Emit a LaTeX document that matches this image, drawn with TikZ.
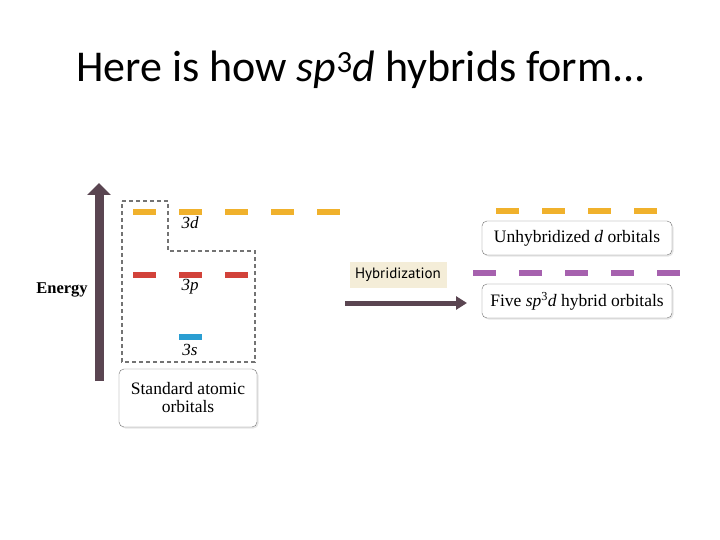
\documentclass[tikz,border=0pt]{standalone}
\usepackage{fontspec}
\setmainfont{Liberation Serif}
\newfontfamily\titlefont{Carlito}
\newfontfamily\tagfont{PT Sans}
\usetikzlibrary{arrows.meta,shadows}
\definecolor{energybar}{HTML}{5A4551}
\definecolor{dlevel}{HTML}{F0B12C}
\definecolor{plevel}{HTML}{D2423A}
\definecolor{slevel}{HTML}{2A9ED2}
\definecolor{hlevel}{HTML}{A661AE}
\definecolor{tagfill}{HTML}{F4EDD8}
\begin{document}
\begin{tikzpicture}[x=1pt, y=-1pt,
    level/.style={line width=6pt},
    orbbox/.style={draw=black!55, rounded corners=5pt, fill=white, align=center,
        font=\fontsize{17.5}{18}\selectfont,
        drop shadow={opacity=0.2, shadow xshift=1.5pt, shadow yshift=-1.5pt}},
    sublabel/.style={font=\fontsize{17}{18}\selectfont\itshape}]
    \useasboundingbox (0,0) rectangle (720,540);

    \node[anchor=base, font=\titlefont\fontsize{44}{50}\selectfont] (title) at (361,82)
        {Here is how \textit{sp}\textsuperscript{3}\textit{d} hybrids form...};

    % energy axis
    \coordinate (elow) at (99,381);
    \coordinate (ehigh) at (99,183);
    \draw[energybar, line width=9pt, -{Triangle[width=23pt,length=12pt]}] (elow) -- (ehigh);
    \node[font=\bfseries\fontsize{16.5}{18}\selectfont] (energy) at (62,290) {Energy};

    % standard atomic orbitals
    \draw[black!55, line width=1.1pt, dash pattern=on 4pt off 3pt]
        (122,201) -- (168,201) -- (168,251) -- (255,251) -- (255,362) -- (122,362) -- cycle;
    \foreach \x in {133,179,225,271,317}
        \draw[level, dlevel] (\x,212) -- ++(23,0);
    \foreach \x in {133,179,225}
        \draw[level, plevel] (\x,275) -- ++(23,0);
    \draw[level, slevel] (179,337) -- ++(23,0);
    \node[sublabel] (l3d) at (190,223) {3\textit{d}};
    \node[sublabel] (l3p) at (190,287) {3\textit{p}};
    \node[sublabel] (l3s) at (190,350) {3\textit{s}};
    \node[orbbox, minimum width=138pt, minimum height=58pt] (std) at (188,398)
        {Standard atomic\\orbitals};

    % hybridization step
    \node[fill=tagfill, font=\tagfont\fontsize{15}{17}\selectfont, minimum width=97pt,
        minimum height=26pt, inner sep=0pt] (hyb) at (398,275) {Hybridization};
    \coordinate (hstart) at (345,303);
    \coordinate (hend) at (467,303);
    \draw[energybar, line width=5pt, -{Triangle[width=13pt,length=11pt]}] (hstart) -- (hend);

    % resulting orbitals
    \foreach \x in {496,542,588,634}
        \draw[level, dlevel] (\x,211) -- ++(23,0);
    \foreach \x in {473,519,565,611,657}
        \draw[level, hlevel] (\x,273) -- ++(23,0);
    \node[orbbox, minimum width=190pt, minimum height=34pt] (unhyb) at (577,238)
        {Unhybridized \textit{d} orbitals};
    \node[orbbox, minimum width=190pt, minimum height=34pt] (five) at (577,301)
        {Five \textit{sp}\textsuperscript{3}\textit{d} hybrid orbitals};
\end{tikzpicture}
\end{document}
